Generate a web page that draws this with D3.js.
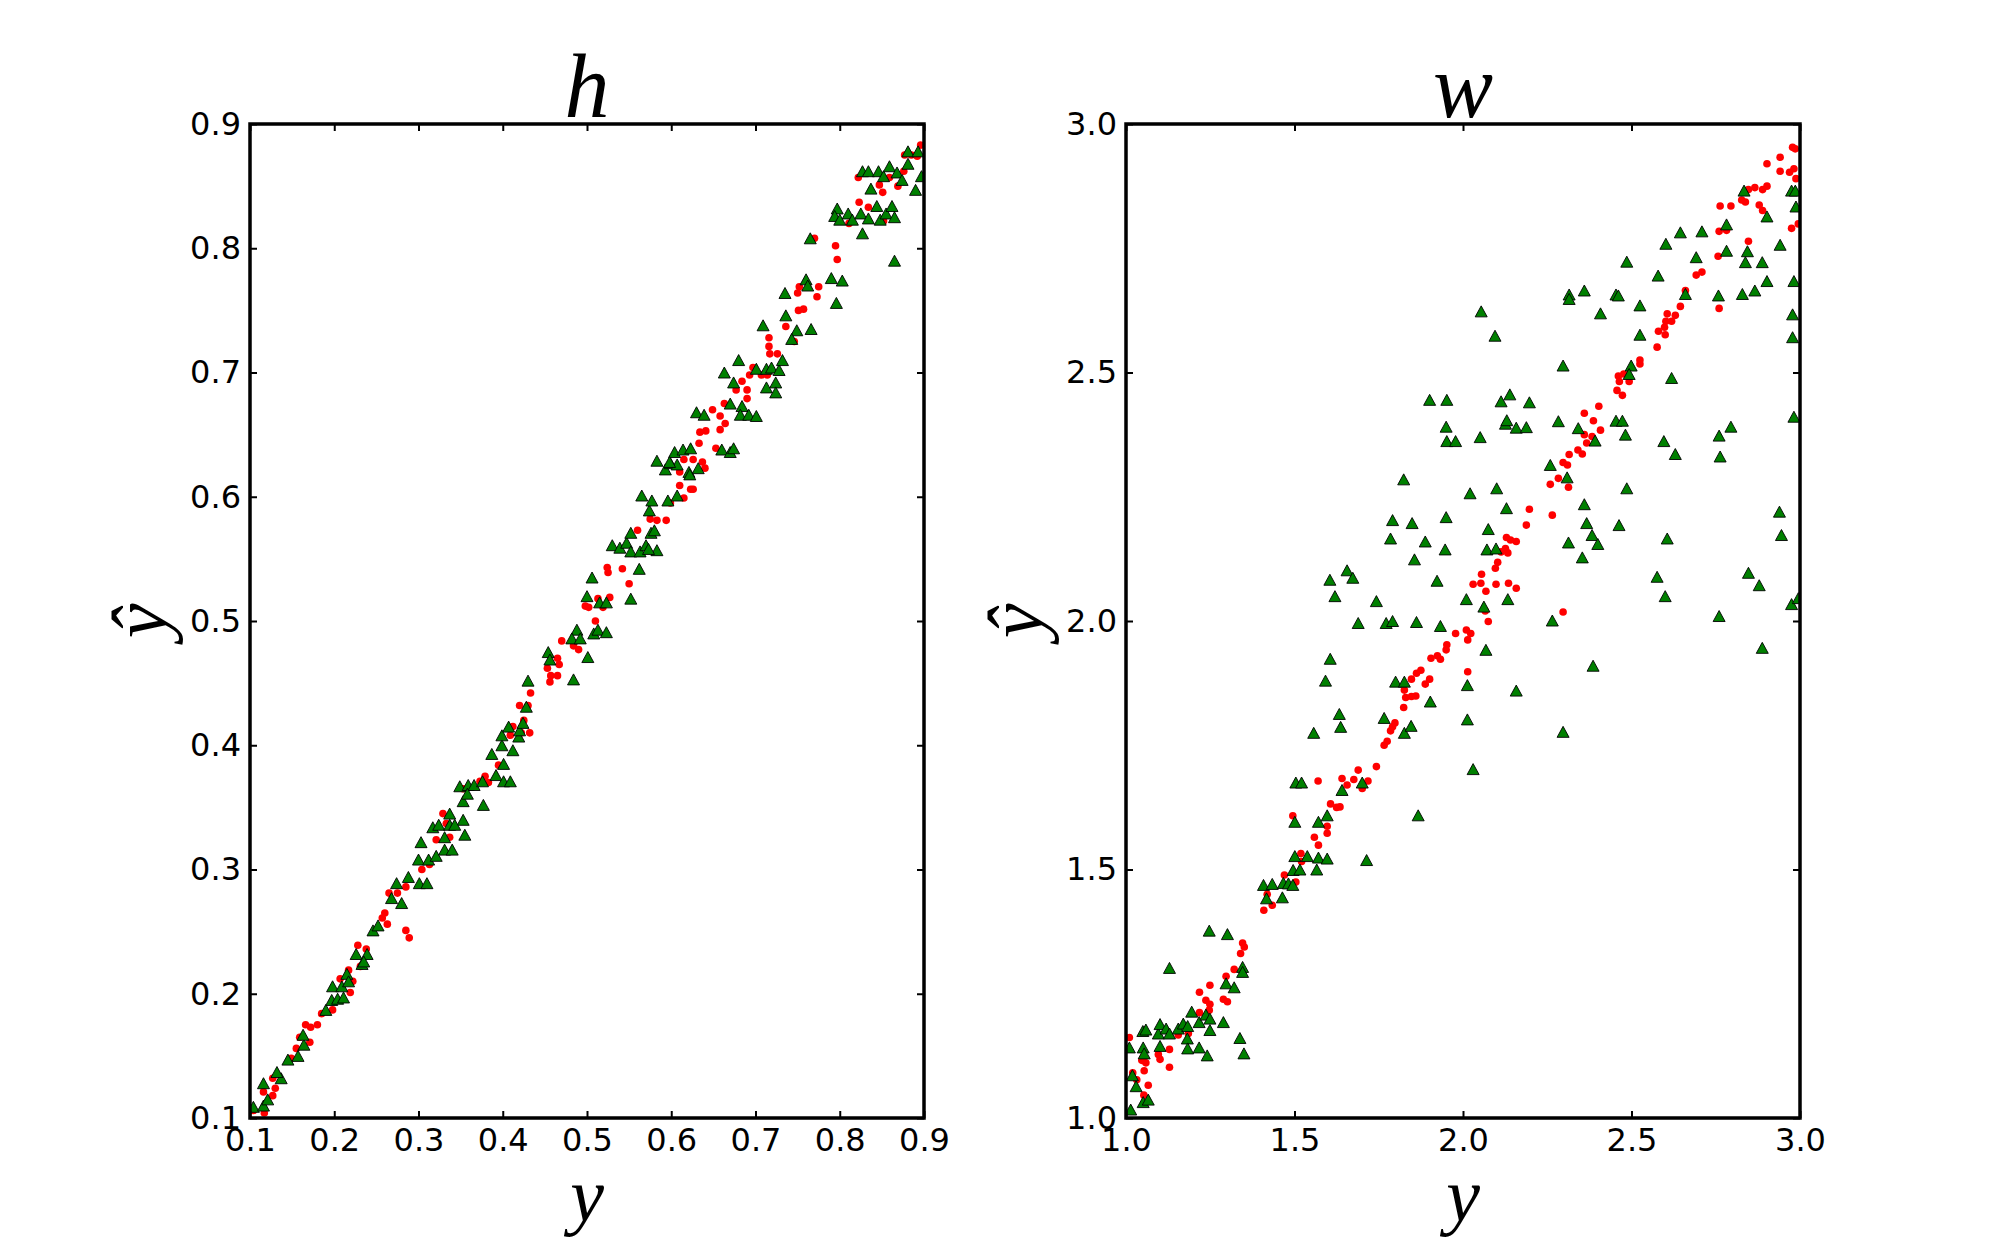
<!DOCTYPE html>
<html>
<head>
<meta charset="utf-8">
<script src="https://cdn.jsdelivr.net/npm/d3@7"></script>
<style>
  body { margin: 0; background: #fff; }
</style>
</head>
<body>
<div id="chart"></div>
<script>
// tick values for both panels
const hTicks = [0.1, 0.2, 0.3, 0.4, 0.5, 0.6, 0.7, 0.8, 0.9];
const wTicks = [1.0, 1.5, 2.0, 2.5, 3.0];

// panel h: [y, yhat]
const hRed = [
  [0.104,0.106],[0.117,0.104],[0.116,0.121],[0.127,0.118],[0.127,0.132],[0.130,0.124],[0.149,0.148],[0.155,0.156],
  [0.159,0.165],[0.166,0.175],[0.172,0.173],[0.180,0.175],[0.171,0.161],[0.185,0.184],[0.198,0.187],[0.207,0.212],
  [0.219,0.201],[0.222,0.210],[0.217,0.219],[0.228,0.239],[0.238,0.236],[0.231,0.222],[0.257,0.261],[0.260,0.265],
  [0.263,0.256],[0.265,0.281],[0.275,0.281],[0.285,0.251],[0.289,0.245],[0.285,0.286],[0.304,0.300],[0.313,0.304],
  [0.321,0.324],[0.329,0.345],[0.337,0.326],[0.333,0.337],[0.353,0.365],[0.373,0.371],[0.379,0.375],[0.383,0.370],
  [0.395,0.384],[0.412,0.415],[0.409,0.408],[0.422,0.410],[0.432,0.410],[0.420,0.432],[0.425,0.420],[0.430,0.432],
  [0.433,0.442],[0.453,0.462],[0.457,0.456],[0.465,0.456],[0.467,0.465],[0.465,0.470],[0.456,0.451],[0.470,0.484],
  [0.484,0.480],[0.490,0.477],[0.510,0.500],[0.498,0.512],[0.502,0.511],[0.513,0.518],[0.527,0.519],[0.519,0.511],
  [0.524,0.543],[0.525,0.539],[0.542,0.542],[0.550,0.530],[0.560,0.573],[0.575,0.582],[0.583,0.581],[0.594,0.581],
  [0.599,0.595],[0.615,0.599],[0.610,0.609],[0.623,0.606],[0.626,0.606],[0.610,0.620],[0.615,0.630],[0.626,0.630],
  [0.637,0.628],[0.640,0.623],[0.633,0.643],[0.634,0.652],[0.641,0.653],[0.653,0.639],[0.658,0.654],[0.649,0.670],
  [0.658,0.665],[0.663,0.675],[0.664,0.659],[0.677,0.686],[0.684,0.693],[0.690,0.686],[0.690,0.679],[0.693,0.698],
  [0.697,0.704],[0.707,0.698],[0.714,0.698],[0.717,0.715],[0.726,0.715],[0.716,0.721],[0.716,0.728],[0.736,0.737],
  [0.746,0.725],[0.751,0.750],[0.757,0.751],[0.750,0.764],[0.752,0.769],[0.775,0.769],[0.773,0.761],[0.770,0.808],
  [0.795,0.802],[0.797,0.791],[0.811,0.820],[0.823,0.837],[0.822,0.857],[0.834,0.833],[0.852,0.822],[0.847,0.851],
  [0.851,0.845],[0.859,0.857],[0.869,0.850],[0.876,0.862],[0.877,0.875],[0.885,0.875],[0.892,0.874],[0.896,0.883]
];
const hGreen = [
  [0.104,0.109],[0.116,0.110],[0.121,0.115],[0.116,0.128],[0.137,0.132],[0.132,0.137],[0.145,0.147],[0.157,0.150],
  [0.164,0.159],[0.163,0.167],[0.190,0.187],[0.198,0.206],[0.197,0.195],[0.204,0.196],[0.211,0.197],[0.209,0.206],
  [0.215,0.216],[0.217,0.210],[0.226,0.232],[0.233,0.224],[0.239,0.232],[0.235,0.226],[0.246,0.251],[0.252,0.255],
  [0.268,0.277],[0.274,0.289],[0.280,0.273],[0.288,0.294],[0.301,0.289],[0.310,0.289],[0.300,0.308],[0.312,0.308],
  [0.321,0.311],[0.303,0.322],[0.317,0.334],[0.324,0.336],[0.331,0.326],[0.337,0.336],[0.337,0.345],[0.331,0.316],
  [0.340,0.316],[0.353,0.340],[0.355,0.328],[0.343,0.336],[0.349,0.367],[0.359,0.368],[0.366,0.368],[0.353,0.355],
  [0.358,0.361],[0.377,0.352],[0.376,0.371],[0.392,0.376],[0.401,0.371],[0.401,0.385],[0.409,0.371],[0.387,0.393],
  [0.399,0.400],[0.399,0.408],[0.407,0.415],[0.412,0.396],[0.419,0.407],[0.420,0.412],[0.424,0.418],[0.428,0.431],
  [0.430,0.452],[0.454,0.475],[0.456,0.469],[0.484,0.453],[0.488,0.493],[0.482,0.486],[0.492,0.486],[0.508,0.490],
  [0.513,0.493],[0.523,0.491],[0.501,0.471],[0.500,0.520],[0.506,0.535],[0.515,0.515],[0.523,0.515],[0.552,0.518],
  [0.562,0.542],[0.530,0.561],[0.539,0.559],[0.547,0.563],[0.552,0.571],[0.552,0.556],[0.563,0.556],[0.570,0.561],
  [0.576,0.571],[0.580,0.573],[0.583,0.557],[0.573,0.558],[0.574,0.589],[0.565,0.601],[0.577,0.597],[0.596,0.597],
  [0.607,0.601],[0.583,0.629],[0.593,0.622],[0.599,0.627],[0.604,0.636],[0.607,0.626],[0.614,0.638],[0.623,0.639],
  [0.621,0.620],[0.632,0.623],[0.622,0.618],[0.598,0.628],[0.630,0.668],[0.639,0.666],[0.660,0.638],[0.670,0.636],
  [0.674,0.639],[0.663,0.700],[0.674,0.692],[0.680,0.710],[0.670,0.675],[0.684,0.673],[0.682,0.666],[0.692,0.666],
  [0.701,0.665],[0.701,0.703],[0.713,0.703],[0.719,0.704],[0.728,0.702],[0.732,0.710],[0.713,0.688],[0.724,0.692],
  [0.724,0.684],[0.709,0.738],[0.735,0.764],[0.736,0.746],[0.749,0.734],[0.743,0.727],[0.766,0.735],[0.760,0.775],
  [0.762,0.770],[0.765,0.808],[0.790,0.776],[0.803,0.774],[0.796,0.756],[0.797,0.832],[0.794,0.826],[0.800,0.823],
  [0.810,0.828],[0.815,0.823],[0.825,0.828],[0.834,0.824],[0.827,0.812],[0.848,0.823],[0.844,0.834],[0.855,0.828],
  [0.862,0.834],[0.865,0.825],[0.865,0.790],[0.827,0.862],[0.834,0.862],[0.837,0.848],[0.846,0.862],[0.852,0.858],
  [0.859,0.866],[0.868,0.861],[0.874,0.855],[0.881,0.878],[0.881,0.868],[0.893,0.878],[0.890,0.847],[0.897,0.858]
];

// panel w: [y, yhat]
const wRed = [
  [1.010,1.162],[1.020,1.091],[1.032,1.077],[1.066,1.066],[1.053,1.046],[1.054,1.095],[1.059,1.111],[1.050,1.120],
  [1.047,1.116],[1.096,1.128],[1.101,1.118],[1.129,1.138],[1.129,1.102],[1.155,1.167],[1.185,1.170],[1.218,1.253],
  [1.218,1.212],[1.237,1.237],[1.249,1.229],[1.247,1.217],[1.249,1.267],[1.289,1.239],[1.301,1.234],[1.297,1.285],
  [1.321,1.299],[1.340,1.331],[1.346,1.352],[1.351,1.344],[1.409,1.418],[1.434,1.428],[1.419,1.450],[1.470,1.489],
  [1.504,1.475],[1.519,1.532],[1.521,1.516],[1.495,1.608],[1.559,1.565],[1.571,1.549],[1.597,1.573],[1.597,1.587],
  [1.607,1.632],[1.625,1.625],[1.635,1.626],[1.570,1.678],[1.641,1.683],[1.656,1.670],[1.676,1.681],[1.689,1.700],
  [1.701,1.663],[1.718,1.678],[1.743,1.707],[1.766,1.750],[1.775,1.758],[1.785,1.779],[1.791,1.787],[1.798,1.795],
  [1.824,1.826],[1.830,1.846],[1.826,1.861],[1.847,1.848],[1.860,1.849],[1.847,1.883],[1.862,1.895],[1.875,1.901],
  [1.888,1.873],[1.901,1.883],[1.905,1.925],[1.924,1.930],[1.933,1.923],[1.950,1.942],[1.952,1.952],[1.978,1.975],
  [2.010,1.982],[2.023,1.975],[2.014,1.962],[2.014,1.898],[2.066,2.020],[2.075,1.999],[2.030,2.074],[2.053,2.076],
  [2.055,2.094],[2.068,2.060],[2.098,2.074],[2.096,2.106],[2.103,2.118],[2.113,2.139],[2.126,2.146],[2.133,2.137],
  [2.129,2.168],[2.141,2.163],[2.158,2.160],[2.135,2.076],[2.158,2.066],[2.188,2.193],[2.197,2.225],[2.265,2.213],
  [2.297,2.018],[2.259,2.275],[2.283,2.287],[2.313,2.269],[2.297,2.319],[2.310,2.314],[2.315,2.335],[2.341,2.344],
  [2.354,2.336],[2.360,2.375],[2.367,2.358],[2.387,2.403],[2.360,2.418],[2.383,2.371],[2.408,2.384],[2.403,2.432],
  [2.457,2.464],[2.473,2.454],[2.461,2.493],[2.464,2.482],[2.493,2.482],[2.477,2.497],[2.525,2.525],[2.525,2.517],
  [2.576,2.551],[2.600,2.576],[2.580,2.583],[2.598,2.591],[2.606,2.618],[2.602,2.603],[2.619,2.603],[2.630,2.615],
  [2.645,2.633],[2.660,2.665],[2.692,2.696],[2.709,2.702],[2.757,2.734],[2.760,2.629],[2.760,2.784],[2.782,2.786],
  [2.847,2.764],[2.763,2.835],[2.795,2.835],[2.827,2.847],[2.838,2.843],[2.847,2.868],[2.866,2.872],[2.889,2.868],
  [2.902,2.875],[2.879,2.837],[2.889,2.826],[2.902,2.920],[2.941,2.933],[2.941,2.905],[2.969,2.903],[2.978,2.953],
  [2.986,2.950],[2.982,2.910],[2.988,2.890],[2.975,2.790],[2.995,2.799]
];
const wGreen = [
  [1.014,1.017],[1.051,1.032],[1.066,1.037],[1.030,1.064],[1.019,1.086],[1.010,1.142],[1.051,1.142],[1.054,1.130],
  [1.101,1.145],[1.050,1.175],[1.059,1.178],[1.096,1.170],[1.101,1.189],[1.119,1.180],[1.129,1.170],[1.155,1.180],
  [1.170,1.190],[1.183,1.185],[1.195,1.214],[1.182,1.160],[1.183,1.140],[1.217,1.142],[1.241,1.126],[1.217,1.193],
  [1.237,1.208],[1.249,1.200],[1.249,1.177],[1.289,1.193],[1.338,1.161],[1.350,1.130],[1.129,1.302],[1.247,1.377],
  [1.301,1.370],[1.297,1.271],[1.321,1.263],[1.346,1.304],[1.346,1.294],[1.408,1.469],[1.434,1.471],[1.417,1.442],
  [1.464,1.444],[1.467,1.473],[1.482,1.472],[1.495,1.469],[1.496,1.499],[1.516,1.500],[1.566,1.500],[1.501,1.527],
  [1.538,1.527],[1.571,1.524],[1.597,1.522],[1.714,1.519],[1.501,1.596],[1.571,1.596],[1.597,1.609],[1.867,1.609],
  [1.504,1.675],[1.521,1.675],[1.641,1.660],[1.701,1.675],[1.557,1.775],[1.633,1.813],[1.637,1.787],[1.766,1.805],
  [1.826,1.775],[1.846,1.789],[2.013,1.802],[2.030,1.702],[2.297,1.777],[1.903,1.838],[1.800,1.878],[1.826,1.878],
  [2.013,1.871],[2.158,1.860],[1.592,1.880],[1.606,1.924],[2.068,1.942],[2.386,1.910],[2.888,1.946],[1.689,1.996],
  [1.772,1.996],[1.791,2.000],[1.862,1.998],[1.933,1.990],[2.265,2.001],[2.760,2.010],[1.620,2.050],[1.605,2.083],
  [1.656,2.102],[1.673,2.087],[1.743,2.040],[1.923,2.081],[2.010,2.044],[2.062,2.029],[2.133,2.044],[1.785,2.166],
  [1.791,2.203],[1.856,2.124],[1.888,2.160],[1.849,2.197],[1.950,2.209],[1.947,2.144],[1.824,2.285],[2.021,2.257],
  [2.100,2.267],[2.129,2.227],[2.075,2.185],[2.071,2.144],[2.098,2.146],[2.259,2.314],[2.309,2.289],[2.360,2.235],
  [2.367,2.197],[2.383,2.173],[2.400,2.155],[2.313,2.158],[2.354,2.128],[2.463,2.193],[2.486,2.267],[2.606,2.166],
  [2.576,2.089],[2.600,2.050],[2.847,2.097],[2.879,2.072],[2.939,2.220],[2.945,2.173],[2.975,2.034],[2.995,2.046],
  [1.901,2.445],[1.952,2.445],[1.950,2.391],[1.952,2.362],[1.978,2.362],[2.051,2.370],[2.054,2.623],[2.095,2.574],
  [2.113,2.442],[2.139,2.456],[2.197,2.440],[2.126,2.397],[2.130,2.404],[2.158,2.389],[2.188,2.390],[2.283,2.402],
  [2.297,2.514],[2.315,2.657],[2.315,2.648],[2.360,2.665],[2.342,2.388],[2.392,2.363],[2.408,2.619],[2.454,2.657],
  [2.461,2.655],[2.525,2.635],[2.525,2.576],[2.454,2.403],[2.473,2.403],[2.482,2.375],[2.499,2.514],[2.493,2.497],
  [2.486,2.723],[2.579,2.695],[2.602,2.759],[2.645,2.782],[2.709,2.784],[2.692,2.732],[2.660,2.658],[2.619,2.489],
  [2.596,2.362],[2.630,2.336],[2.760,2.373],[2.763,2.331],[2.795,2.391],[2.758,2.655],[2.782,2.745],[2.782,2.798],
  [2.834,2.866],[2.829,2.658],[2.866,2.665],[2.838,2.722],[2.844,2.744],[2.888,2.722],[2.902,2.684],[2.902,2.814],
  [2.941,2.757],[2.975,2.866],[2.986,2.866],[2.988,2.834],[2.982,2.684],[2.978,2.617],[2.978,2.571],[2.982,2.411]
];

const width = 2000, height = 1242;
const plotTop = 124, plotH = 994, plotW = 674;

const svg = d3.select("#chart").append("svg")
    .attr("width", width)
    .attr("height", height)
    .style("font-family", "'DejaVu Sans', sans-serif");

const panels = [
    {name: "h", left: 250, domain: [0.1, 0.9], ticks: hTicks, red: hRed, green: hGreen},
    {name: "w", left: 1126, domain: [1.0, 3.0], ticks: wTicks, red: wRed, green: wGreen}
];

const fmt = d3.format(".1f");
// matplotlib-ish triangle: width 12, height 11
const tri = "M0,-5.5L6,5.5L-6,5.5Z";

panels.forEach((p, i) => {
    let x = d3.scaleLinear().domain(p.domain).range([0, plotW]);
    let y = d3.scaleLinear().domain(p.domain).range([plotH, 0]);

    let g = svg.append("g").attr("transform", "translate(" + p.left + "," + plotTop + ")");

    g.append("clipPath").attr("id", "clip" + i)
        .append("rect").attr("width", plotW).attr("height", plotH);

    let pts = g.append("g").attr("clip-path", "url(#clip" + i + ")");

    pts.selectAll("circle")
        .data(p.red)
        .enter()
        .append("circle")
        .attr("cx", d => x(d[0]))
        .attr("cy", d => y(d[1]))
        .attr("r", 3.8)
        .style("fill", "#ff0000");

    pts.selectAll("path.tri")
        .data(p.green)
        .enter()
        .append("path")
        .attr("class", "tri")
        .attr("d", tri)
        .attr("transform", d => "translate(" + x(d[0]) + "," + y(d[1]) + ")")
        .style("fill", "#008000")
        .style("stroke", "#000")
        .style("stroke-width", 0.9);

    // axes, ticks pointing in on all four sides
    let bottom = g.append("g").attr("transform", "translate(0," + plotH + ")")
        .call(d3.axisBottom(x).tickValues(p.ticks).tickFormat(fmt).tickSize(-7).tickPadding(10));
    let leftAx = g.append("g")
        .call(d3.axisLeft(y).tickValues(p.ticks).tickFormat(fmt).tickSize(-7).tickPadding(9));
    let topAx = g.append("g")
        .call(d3.axisTop(x).tickValues(p.ticks).tickFormat("").tickSize(-7));
    let rightAx = g.append("g").attr("transform", "translate(" + plotW + ",0)")
        .call(d3.axisRight(y).tickValues(p.ticks).tickFormat("").tickSize(-7));

    [bottom, leftAx, topAx, rightAx].forEach(a => {
        a.select(".domain").remove();
        a.selectAll(".tick line").style("stroke", "#000").style("stroke-width", 2);
        a.selectAll("text")
            .style("font-family", "'DejaVu Sans', sans-serif")
            .style("font-size", "32px")
            .style("fill", "#000");
    });

    g.append("rect")
        .attr("width", plotW)
        .attr("height", plotH)
        .style("fill", "none")
        .style("stroke", "#000")
        .style("stroke-width", 3.5);

    // title
    g.append("text")
        .text(p.name)
        .attr("x", plotW / 2)
        .attr("y", -7)
        .attr("text-anchor", "middle")
        .style("font-family", "'Liberation Serif', serif")
        .style("font-style", "italic")
        .style("font-size", "90px");

    // x label
    g.append("text")
        .text("y")
        .attr("x", plotW / 2)
        .attr("y", plotH + 103)
        .attr("text-anchor", "middle")
        .style("font-family", "'Liberation Serif', serif")
        .style("font-style", "italic")
        .style("font-size", "76px");

    // y label
    g.append("text")
        .text("\u0177")
        .attr("text-anchor", "middle")
        .attr("transform", "translate(" + (-84) + "," + (plotH / 2) + "), rotate(-90)")
        .style("font-family", "'Liberation Serif', serif")
        .style("font-style", "italic")
        .style("font-size", "78px");
});
</script>
</body>
</html>
